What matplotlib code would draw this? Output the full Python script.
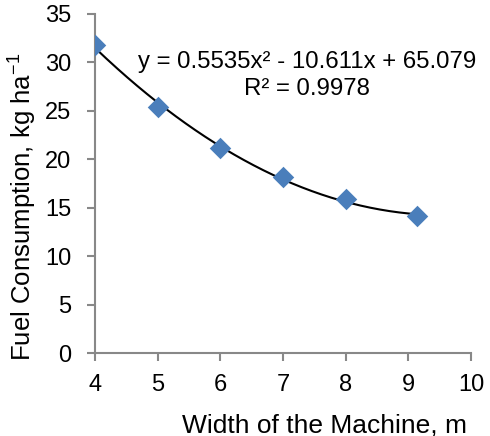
import numpy as np
import matplotlib
matplotlib.use("Agg")
import matplotlib.pyplot as plt

plt.rcParams['font.family'] = ['Liberation Sans', 'DejaVu Sans']

width = [4, 5, 6, 7, 8, 9.14]
fuel = [31.8, 25.4, 21.2, 18.2, 15.9, 14.2]
coef = [0.5535, -10.611, 65.079]
eq_line1 = "y = 0.5535x² - 10.611x + 65.079"
eq_line2 = "R² = 0.9978"

fig = plt.figure(figsize=(4.9, 4.36), dpi=100)
ax = fig.add_axes([0.194, 0.19, 0.767, 0.778])

xs = np.linspace(min(width), max(width), 200)
ax.plot(xs, np.polyval(coef, xs), color='black', lw=1.5, zorder=2)
ax.scatter(width, fuel, marker='D', s=120, color='#4A7EBB', zorder=3, linewidths=0)

ax.set_xlim(4, 10)
ax.set_ylim(0, 35)
ax.set_xticks(range(4, 11))
ax.set_yticks(range(0, 36, 5))
for s in ['top', 'right']:
    ax.spines[s].set_visible(False)
for s in ['left', 'bottom']:
    ax.spines[s].set_color('#888888')
    ax.spines[s].set_linewidth(1.5)
ax.tick_params(colors='#888888', length=6, width=1.5, labelcolor='black', labelsize=17)
ax.tick_params(axis='x', pad=9)
ax.tick_params(axis='y', pad=11)

ax.set_xlabel('Width of the Machine, m', fontsize=19)
ax.xaxis.label.set_va('baseline')
ax.xaxis.set_label_coords(0.61, -0.233)

ax.set_ylabel('Fuel Consumption, kg ha$^{\\mathregular{-1}}$', fontsize=18.5)
ax.yaxis.label.set_va('center')
ax.yaxis.set_label_coords(-0.195, 0.43)

ax.text(7.39, 30.0, eq_line1, ha='center', va='center', fontsize=17.3)
ax.text(7.39, 27.3, eq_line2, ha='center', va='center', fontsize=17.3)

fig.savefig('out.png', dpi=100)
